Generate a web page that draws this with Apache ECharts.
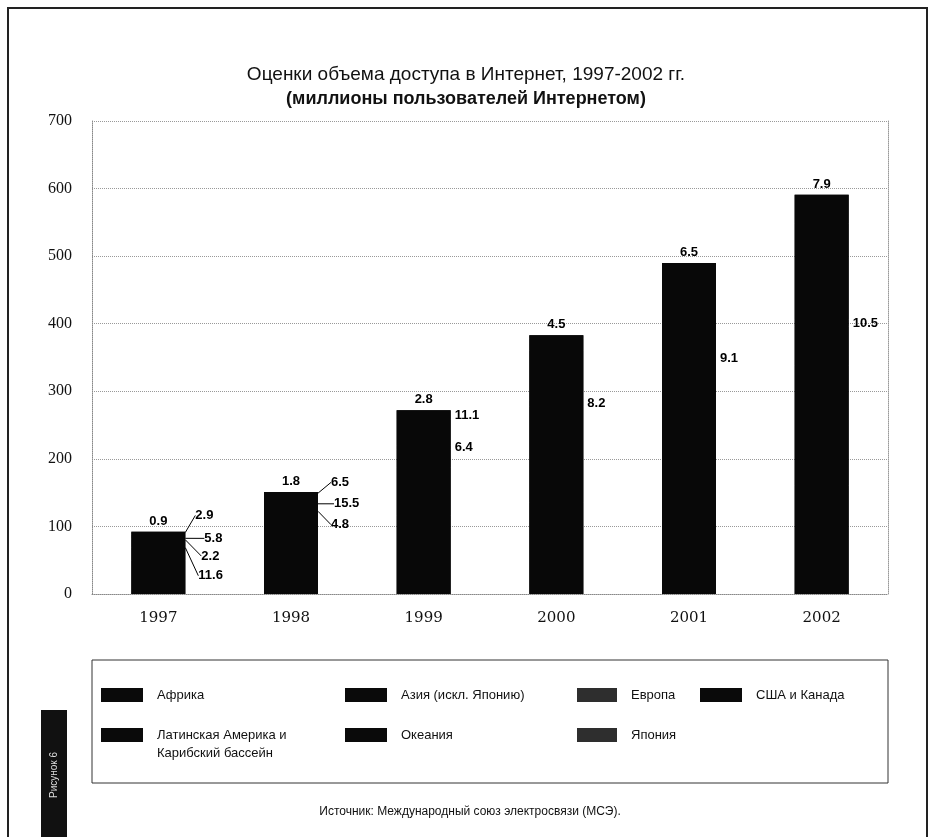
<!DOCTYPE html>
<html>
<head>
<meta charset="utf-8">
<title>Оценки объема доступа в Интернет</title>
<script src="https://cdn.jsdelivr.net/npm/echarts@6/dist/echarts.min.js"></script>
<style>
  html, body { margin: 0; padding: 0; background: #fff; }
  #chart { width: 932px; height: 837px; }
</style>
</head>
<body>
<div id="chart"></div>
<script>
  // данные (миллионы пользователей), снизу вверх по стопке
  var years = ['1997', '1998', '1999', '2000', '2001', '2002'];
  var usaCanada = [50, 80, 116.7, 135.9, 148.5, 160.5];
  var europe = [18.6, 25.5, 70, 95, 140, 178];
  var japan = [11.6, 16.9, 27, 47, 55.9, 57.2];
  var oceania = [2.2, 4.8, 6.4, 8.2, 9.1, 10.5];
  var asia = [5.8, 15.5, 38, 74.4, 105, 141.9];
  var latam = [2.9, 6.5, 11.1, 18, 25, 35];
  var africa = [0.9, 1.8, 2.8, 4.5, 6.5, 7.9];

  // какие годы подписаны у каждого ряда
  var africaLabelled = [0, 1, 2, 3, 4, 5];
  var latamLabelled = [0, 1, 2];
  var asiaLabelled = [0, 1];
  var oceaniaLabelled = [0, 1, 2, 3, 4, 5];
  var japanLabelled = [0];

  // сумма по годам — сплошная подложка, чтобы не было швов между сегментами
  var totals = years.map(function (y, i) {
    return usaCanada[i] + europe[i] + japan[i] + oceania[i] + asia[i] + latam[i] + africa[i];
  });

  var myChart = echarts.init(document.getElementById('chart'));

  var barColor = '#080808';
  var labelFont = {
    fontFamily: 'Liberation Sans',
    fontWeight: 'bold',
    fontSize: 13,
    color: '#000'
  };

  // shifts: сдвиг выносных подписей; у сдвинутых рисуется линия-выноска
  function makeData(vals, shown, shifts) {
    return vals.map(function (v, i) {
      if (shown.indexOf(i) < 0) return v;
      return {
        value: v,
        label: { show: true },
        labelLine: { show: !!(shifts && shifts[i]) }
      };
    });
  }

  function barSeries(name, vals, shown, pos, shifts) {
    return {
      name: name,
      type: 'bar',
      stack: 'total',
      barWidth: 54,
      barGap: '-100%',
      z: 3,
      itemStyle: { color: barColor },
      data: makeData(vals, shown, shifts),
      label: Object.assign({ show: false, position: pos, distance: 4 }, labelFont),
      labelLine: { show: false, lineStyle: { color: '#000', width: 1 } },
      labelLayout: function (p) {
        return (shifts && shifts[p.dataIndex]) || {};
      }
    };
  }

  var swatch = '#0a0a0a';
  var swatchGrey = '#2e2e2e';

  function legendAt(name, left, top, w, col) {
    return {
      data: [{ name: name, itemStyle: { color: col } }],
      left: left,
      top: top,
      padding: 0,
      icon: 'rect',
      itemWidth: w,
      itemHeight: 14,
      selectedMode: false,
      textStyle: {
        fontFamily: 'Liberation Sans',
        fontSize: 13,
        color: '#111',
        padding: [0, 0, 0, 9]
      },
      formatter: function (n) {
        return n === 'Латинская Америка и Карибский бассейн' ? 'Латинская Америка и' : n;
      }
    };
  }

  var option = {
    backgroundColor: '#fff',
    animation: false,
    title: [{
      text: 'Оценки объема доступа в Интернет, 1997-2002 гг.',
      left: 'center',
      top: 60,
      textStyle: { fontFamily: 'Liberation Sans', fontSize: 19, fontWeight: 'normal', color: '#111' }
    }, {
      text: '(миллионы пользователей Интернетом)',
      left: 'center',
      top: 85,
      textStyle: { fontFamily: 'Liberation Sans', fontSize: 18, fontWeight: 'bold', color: '#111' }
    }],
    legend: [
      legendAt('Африка', 101, 688, 42, swatch),
      legendAt('Азия (искл. Японию)', 345, 688, 42, swatch),
      legendAt('Европа', 577, 688, 40, swatchGrey),
      legendAt('США и Канада', 700, 688, 42, swatch),
      legendAt('Латинская Америка и Карибский бассейн', 101, 728, 42, swatch),
      legendAt('Океания', 345, 728, 42, swatch),
      legendAt('Япония', 577, 728, 40, swatchGrey)
    ],
    grid: { left: 92, right: 44, top: 121, bottom: 243 },
    xAxis: {
      type: 'category',
      data: years,
      axisLine: { show: true, lineStyle: { color: '#888', type: 'dotted' } },
      axisTick: { show: false },
      axisLabel: { margin: 17, fontFamily: 'DejaVu Serif', fontSize: 15, color: '#111' }
    },
    yAxis: [{
      type: 'value',
      min: 0,
      max: 700,
      interval: 100,
      axisLine: { show: true, lineStyle: { color: '#888', type: 'dotted' } },
      axisTick: { show: false },
      axisLabel: { margin: 20, fontFamily: 'Liberation Serif', fontSize: 16, color: '#111' },
      splitLine: { show: true, lineStyle: { color: '#999', type: 'dotted' } }
    }, {
      type: 'value',
      position: 'right',
      min: 0,
      max: 700,
      interval: 100,
      axisLine: { show: true, lineStyle: { color: '#999', type: 'dotted' } },
      axisTick: { show: false },
      axisLabel: { show: false },
      splitLine: { show: false }
    }],
    series: [
      {
        name: 'Всего',
        type: 'bar',
        barWidth: 54,
        barGap: '-100%',
        z: 2,
        silent: true,
        itemStyle: { color: barColor },
        data: totals
      },
      barSeries('США и Канада', usaCanada, [], 'inside'),
      barSeries('Европа', europe, [], 'inside'),
      barSeries('Япония', japan, japanLabelled, 'right', { 0: { dx: 9, dy: 32 } }),
      barSeries('Океания', oceania, oceaniaLabelled, 'right', { 0: { dx: 12, dy: 17 }, 1: { dx: 9, dy: 15 } }),
      barSeries('Азия (искл. Японию)', asia, asiaLabelled, 'right', { 0: { dx: 15, dy: 2 }, 1: { dx: 12, dy: 1 } }),
      barSeries('Латинская Америка и Карибский бассейн', latam, latamLabelled, 'right', { 0: { dx: 6, dy: -18 }, 1: { dx: 9, dy: -13 } }),
      barSeries('Африка', africa, africaLabelled, 'top')
    ],
    graphic: [
      // рамка страницы
      { type: 'polyline', silent: true, shape: { points: [[8, 845], [8, 8], [927, 8], [927, 845]] },
        style: { fill: null, stroke: '#222', lineWidth: 2 } },
      // рамка легенды
      { type: 'rect', silent: true, shape: { x: 92, y: 660, width: 796, height: 123 },
        style: { fill: null, stroke: '#333', lineWidth: 1 } },
      // вторая строка подписи легенды
      { type: 'text', silent: true, x: 157, y: 753,
        style: { text: 'Карибский бассейн', fill: '#111', font: '13px "Liberation Sans"', verticalAlign: 'middle' } },
      // боковая метка
      { type: 'rect', silent: true, shape: { x: 41, y: 710, width: 26, height: 130 },
        style: { fill: '#111' } },
      { type: 'text', silent: true, x: 54, y: 775, rotation: Math.PI / 2,
        style: { text: 'Рисунок 6', fill: '#ddd', font: '10px "Liberation Sans"', align: 'center', verticalAlign: 'middle' } },
      { type: 'text', silent: true, x: 470, y: 812,
        style: { text: 'Источник: Международный союз электросвязи (МСЭ).', fill: '#111',
          font: '12px "Liberation Sans"', align: 'center', verticalAlign: 'middle' } }
    ]
  };

  myChart.setOption(option);
</script>
</body>
</html>
